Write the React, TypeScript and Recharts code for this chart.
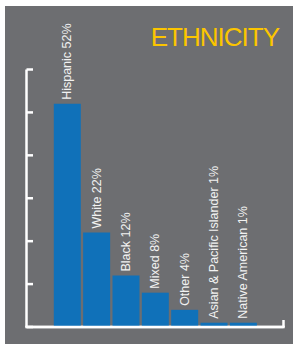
import React from 'react';
import * as R from 'recharts';
import { BarChart, Bar, XAxis, YAxis, LabelList } from 'recharts';

const categories = ['Hispanic', 'White', 'Black', 'Mixed', 'Other', 'Asian & Pacific Islander', 'Native American'];
const shares = [52, 22, 12, 8, 4, 1, 1];
const yTicks = [0, 10, 20, 30, 40, 50, 60];

const data = categories.map((name, i) => ({ name, value: shares[i] }));

const AXIS = '#ffffff';
const BG = '#6d6e71';
const BLUE = '#1071b9';

const YTick = (props: any) => {
  const { x, y } = props;
  return <line x1={x} x2={x + 6.5} y1={y} y2={y} stroke={AXIS} strokeWidth={2.5} />;
};

const EndTick = () => {
  const hook = (R as any).usePlotArea;
  const area = hook ? hook() : null;
  if (!area) return null;
  const x = area.x + area.width;
  const y = area.y + area.height;
  return (
    <g>
      <line x1={area.x - 1.25} x2={x + 1.25} y1={y} y2={y} stroke={AXIS} strokeWidth={2.5} />
      <line x1={x} x2={x} y1={y} y2={y - 7} stroke={AXIS} strokeWidth={2.5} />
    </g>
  );
};

const BarLabel = (props: any) => {
  const { x, y, width, index } = props;
  const cx = x + width / 2;
  const ty = y - 4;
  const text = `${categories[index]} ${shares[index]}%`;
  return (
    <text
      x={cx}
      y={ty}
      transform={`rotate(-90 ${cx} ${ty})`}
      textAnchor="start"
      dominantBaseline="central"
      fill="#f2f2f2"
      fontSize={12.5}
      fontFamily="'Liberation Sans', Arial, sans-serif"
    >
      {text}
    </text>
  );
};

export default function App() {
  return (
    <div style={{ position: 'absolute', left: 5, top: 6, width: 288, height: 338, background: BG }}>
      <div
        style={{
          position: 'absolute',
          right: 14,
          top: 18,
          color: '#fcc500',
          fontFamily: "'Liberation Sans', Arial, sans-serif",
          fontSize: 26,
          lineHeight: '26px',
          letterSpacing: -1,
          whiteSpace: 'nowrap',
        }}
      >
        ETHNICITY
      </div>
      <BarChart
        width={288}
        height={338}
        data={data}
        margin={{ top: 63.5, right: 9.5, bottom: 16, left: 0 }}
        barSize={27}
      >
        <XAxis
          dataKey="name"
          height={1}
          tick={false}
          tickLine={false}
          axisLine={{ stroke: AXIS, strokeWidth: 2.5 }}
          padding={{ left: 26.3, right: 25.3 }}
        />
        <YAxis
          width={21.5}
          domain={[0, 60]}
          ticks={yTicks}
          interval={0}
          tickSize={0}
          tickMargin={0}
          tickLine={false}
          tick={<YTick />}
          axisLine={{ stroke: AXIS, strokeWidth: 2.5 }}
        />
        <Bar dataKey="value" fill={BLUE} isAnimationActive={false}>
          <LabelList dataKey="value" content={<BarLabel />} />
        </Bar>
        <EndTick />
      </BarChart>
    </div>
  );
}
